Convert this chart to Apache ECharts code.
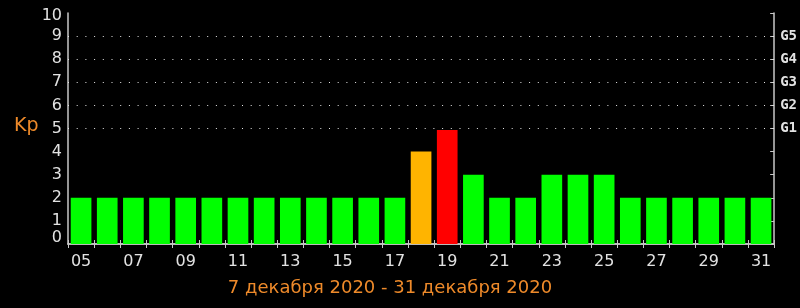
<!DOCTYPE html>
<html>
<head>
<meta charset="utf-8">
<script src="https://cdn.jsdelivr.net/npm/echarts@6/dist/echarts.min.js"></script>
<style>
html,body{margin:0;padding:0;background:#000;}
#c{width:800px;height:308px;}
</style>
</head>
<body>
<div id="c"></div>
<script>
var days = ['05','06','07','08','09','10','11','12','13','14','15','16','17','18','19','20','21','22','23','24','25','26','27','28','29','30','31'];
var kp = [2,2,2,2,2,2,2,2,2,2,2,2,2,4,4.93,3,2,2,3,3,3,2,2,2,2,2,2];
var gLabels = ['G1','G2','G3','G4','G5'];
var gLevels = [5,6,7,8,9];
var yAxisTitle = 'Kp';
var periodText = '7 декабря 2020 - 31 декабря 2020';

function kpColor(v){
  var r = Math.round(v);
  if (r >= 5) return '#ff0000';
  if (r >= 4) return '#ffb400';
  return '#00ff00';
}

var chart = echarts.init(document.getElementById('c'), null, {renderer:'canvas'});
var axisCol = '#c8c8c8';
var txtCol = '#e2e2e2';
var orange = '#ee8a2a';

chart.setOption({
  backgroundColor:'#000',
  animation:false,
  grid:{left:68, right:24, top:13, bottom:64},
  xAxis:[{
    type:'category', data:days, position:'bottom', boundaryGap:true,
    axisLine:{show:true, lineStyle:{color:axisCol, width:1.5}},
    axisTick:{show:true, inside:true, length:4, interval:0, lineStyle:{color:axisCol}},
    axisLabel:{interval:1, color:txtCol, fontFamily:'DejaVu Sans', fontSize:16, margin:10},
    splitLine:{show:false}
  },{
    type:'category', data:days, position:'top', boundaryGap:true,
    axisLine:{show:true, lineStyle:{color:axisCol, width:1.5}},
    axisTick:{show:true, inside:true, length:4, interval:0, lineStyle:{color:axisCol}},
    axisLabel:{show:false},
    splitLine:{show:false}
  }],
  yAxis:[{
    type:'value', min:0, max:10, interval:1, position:'left',
    axisLine:{show:true, lineStyle:{color:axisCol, width:1.5}},
    axisTick:{show:false},
    splitLine:{show:false},
    axisLabel:{color:txtCol, fontFamily:'DejaVu Sans', fontSize:16, margin:6,
      formatter:function(v){ return v===0 ? '{z|0}' : (v===10 ? '{t|10}' : String(v)); },
      rich:{
        z:{color:txtCol, fontFamily:'DejaVu Sans', fontSize:16, padding:[0,0,12,0]},
        t:{color:txtCol, fontFamily:'DejaVu Sans', fontSize:16, padding:[6,0,0,0]}
      }
    }
  },{
    type:'value', min:0, max:10, interval:1, position:'right',
    axisLine:{show:true, lineStyle:{color:axisCol, width:1.5}},
    axisTick:{show:true, inside:true, length:4, lineStyle:{color:axisCol}},
    splitLine:{show:false},
    axisLabel:{color:txtCol, fontFamily:'DejaVu Sans Mono', fontWeight:'bold', fontSize:14, margin:6,
      formatter:function(v){ var i = gLevels.indexOf(v); return i>=0 ? gLabels[i] : ''; }
    }
  }],
  series:[{
    type:'bar', data:kp, xAxisIndex:0, yAxisIndex:0,
    barCategoryGap:'21%',
    itemStyle:{color:function(p){ return kpColor(p.value); }},
    markLine:{
      silent:true, symbol:['none','none'],
      label:{show:false},
      lineStyle:{color:'#e6e6e6', type:[1,7.7], width:1},
      data:gLevels.map(function(l){ return {yAxis:l}; })
    }
  }],
  graphic:[{
    type:'text', left:14, top:117,
    style:{text:yAxisTitle, fill:orange, font:'19px "DejaVu Sans"'}
  },{
    type:'text', x:390, y:288,
    style:{text:periodText, fill:orange, font:'18px "DejaVu Sans"', textAlign:'center', textVerticalAlign:'middle'}
  }]
});
</script>
</body>
</html>
